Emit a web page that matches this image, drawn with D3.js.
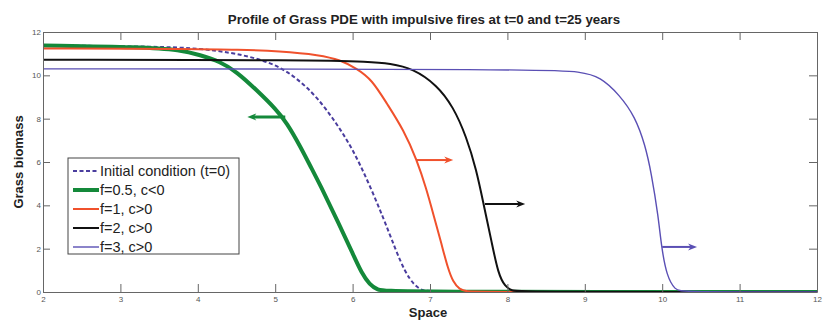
<!DOCTYPE html>
<html>
<head>
<meta charset="utf-8">
<script src="https://cdn.jsdelivr.net/npm/d3@7"></script>
<style>
  html, body { margin: 0; padding: 0; background: #fff; }
  svg { display: block; font-family: "Liberation Sans", Arial, sans-serif; }
  .tick text { fill: #555; font-size: 8px; }
  .tick line, .domain { stroke: #666; }
</style>
</head>
<body>
<div id="chart"></div>
<script>
// values (space, grass biomass)
const initX = [2, 3.5, 4.03, 4.42, 4.75, 5.06, 5.3, 5.54, 5.79, 6.0, 6.2, 6.4, 6.55, 6.68, 6.8, 6.9, 7.0, 12];
const initY = [11.38, 11.33, 11.24, 11.05, 10.8, 10.4, 9.8, 9.0, 7.8, 6.6, 5.1, 3.4, 2.0, 0.9, 0.3, 0.07, 0, 0];

const f05X = [2, 3.3, 3.77, 4.03, 4.29, 4.5, 4.76, 5.02, 5.15, 5.32, 5.48, 5.57, 5.82, 6.0, 6.12, 6.22, 6.32, 6.45, 12];
const f05Y = [11.38, 11.3, 11.17, 10.94, 10.63, 10.17, 9.32, 8.4, 7.8, 6.75, 5.63, 5.02, 3.17, 1.79, 0.85, 0.35, 0.1, 0, 0];

const f1X = [2, 4, 4.5, 5.06, 5.58, 5.84, 6.05, 6.25, 6.44, 6.66, 6.83, 6.95, 7.05, 7.15, 7.23, 7.3, 7.38, 7.48, 7.6, 12];
const f1Y = [11.24, 11.22, 11.19, 11.12, 10.94, 10.71, 10.32, 9.8, 8.71, 7.48, 6.09, 4.8, 3.5, 2.2, 1.1, 0.45, 0.12, 0.02, 0, 0];

const f2X = [2, 5.5, 6.22, 6.48, 6.78, 7.09, 7.3, 7.47, 7.6, 7.69, 7.8, 7.88, 7.97, 8.06, 8.15, 12];
const f2Y = [10.72, 10.7, 10.63, 10.55, 10.32, 9.55, 8.55, 7.17, 5.63, 4.09, 2.25, 0.86, 0.24, 0.06, 0, 0];

const f3X = [2, 8.5, 8.94, 9.2, 9.45, 9.65, 9.78, 9.86, 9.95, 9.99, 10.06, 10.17, 10.25, 12];
const f3Y = [10.3, 10.28, 10.17, 9.94, 9.09, 8.09, 6.78, 5.48, 3.48, 2.09, 0.71, 0.09, 0, 0];

const seriesNames = ["Initial condition (t=0)", "f=0.5, c<0", "f=1, c>0", "f=2, c>0", "f=3, c>0"];

// direction arrows: start x, end x, y
const arrowX0 = [5.13, 6.83, 7.71, 10.0];
const arrowX1 = [4.64, 7.30, 8.23, 10.45];
const arrowY = [8.08, 6.09, 4.06, 2.08];

const xTicks = [2, 3, 4, 5, 6, 7, 8, 9, 10, 11, 12];
const yTicks = [0, 2, 4, 6, 8, 10, 12];

const width = 830, height = 320;
const margin = { top: 32, right: 13, bottom: 28, left: 43 };

const styles = [
  { color: "#4a3d9e", width: 2, dash: "4,2.5" },
  { color: "#14893a", width: 4, dash: null },
  { color: "#f0512c", width: 2, dash: null },
  { color: "#111111", width: 2, dash: null },
  { color: "#5a4fb4", width: 1.4, dash: null },
];
const arrowStyle = [1, 2, 3, 4];

const series = [
  [initX, initY], [f05X, f05Y], [f1X, f1Y], [f2X, f2Y], [f3X, f3Y],
].map(([xs, ys], i) => ({ name: seriesNames[i], points: xs.map((x, j) => [x, ys[j]]), style: styles[i] }));

const x = d3.scaleLinear().domain([2, 12]).range([margin.left, width - margin.right]);
const y = d3.scaleLinear().domain([0, 12]).range([height - margin.bottom, margin.top]);

const svg = d3.select("#chart").append("svg").attr("width", width).attr("height", height);

const line = d3.line().x((d) => x(d[0])).y((d) => y(d[1])).curve(d3.curveBasis);

svg.append("defs").append("clipPath").attr("id", "clip")
  .append("rect").attr("x", margin.left).attr("y", margin.top)
  .attr("width", width - margin.left - margin.right).attr("height", height - margin.top - margin.bottom);

const linesG = svg.append("g").attr("clip-path", "url(#clip)");
linesG.selectAll("path")
  .data(series)
  .join("path")
  .attr("d", (d) => line(d.points))
  .attr("fill", "none")
  .attr("stroke", (d) => d.style.color)
  .attr("stroke-width", (d) => d.style.width)
  .attr("stroke-dasharray", (d) => d.style.dash)
  .attr("stroke-linejoin", "round");

// arrows
const arrowsG = svg.append("g");
arrowY.forEach((yy, i) => {
  const st = styles[arrowStyle[i]];
  const xa = x(arrowX0[i]), xb = x(arrowX1[i]), ya = y(yy);
  const dir = xb > xa ? 1 : -1;
  const head = 9, half = 3.5;
  arrowsG.append("line")
    .attr("x1", xa).attr("x2", xb - dir * head * 0.6).attr("y1", ya).attr("y2", ya)
    .attr("stroke", st.color).attr("stroke-width", i === 0 ? 3 : 2);
  arrowsG.append("path")
    .attr("d", `M${xb},${ya} L${xb - dir * head},${ya - half} L${xb - dir * head * 0.7},${ya} L${xb - dir * head},${ya + half} Z`)
    .attr("fill", st.color);
});

// axes box with inward ticks
svg.append("g").attr("transform", `translate(0,${height - margin.bottom})`)
  .call(d3.axisBottom(x).tickValues(xTicks).tickSizeInner(-8).tickSizeOuter(0).tickPadding(4));
svg.append("g").attr("transform", `translate(0,${margin.top})`)
  .call(d3.axisTop(x).tickValues(xTicks).tickSizeInner(-8).tickSizeOuter(0).tickFormat(""));
svg.append("g").attr("transform", `translate(${margin.left},0)`)
  .call(d3.axisLeft(y).tickValues(yTicks).tickSizeInner(-7).tickSizeOuter(0).tickPadding(2));
svg.append("g").attr("transform", `translate(${width - margin.right},0)`)
  .call(d3.axisRight(y).tickValues(yTicks).tickSizeInner(-8).tickSizeOuter(0).tickFormat(""));

// titles
svg.append("text")
  .attr("x", 424).attr("y", 24)
  .attr("text-anchor", "middle")
  .attr("font-size", 13.3).attr("font-weight", "bold").attr("fill", "#222")
  .text("Profile of Grass PDE with impulsive fires at t=0 and t=25 years");
svg.append("text")
  .attr("x", 428).attr("y", 317)
  .attr("text-anchor", "middle")
  .attr("font-size", 13).attr("font-weight", "bold").attr("fill", "#222")
  .text("Space");
svg.append("text")
  .attr("transform", `translate(23,${(margin.top + height - margin.bottom) / 2}) rotate(-90)`)
  .attr("text-anchor", "middle")
  .attr("font-size", 13).attr("font-weight", "bold").attr("fill", "#222")
  .text("Grass biomass");

// legend
const legend = svg.append("g").attr("transform", "translate(68,158)");
legend.append("rect")
  .attr("width", 171).attr("height", 96)
  .attr("fill", "#fff").attr("stroke", "#444").attr("stroke-width", 1);
const rows = legend.selectAll(".row")
  .data(series)
  .join("g")
  .attr("class", "row")
  .attr("transform", (d, i) => `translate(0,${13 + i * 19})`);
rows.append("line")
  .attr("x1", 5).attr("x2", 31).attr("y1", 0).attr("y2", 0)
  .attr("stroke", (d) => d.style.color)
  .attr("stroke-width", (d) => d.style.width)
  .attr("stroke-dasharray", (d) => d.style.dash);
rows.append("text")
  .attr("x", 32).attr("y", 0).attr("dy", "0.35em")
  .attr("font-size", 14.5).attr("fill", "#222")
  .text((d) => d.name);
</script>
</body>
</html>
